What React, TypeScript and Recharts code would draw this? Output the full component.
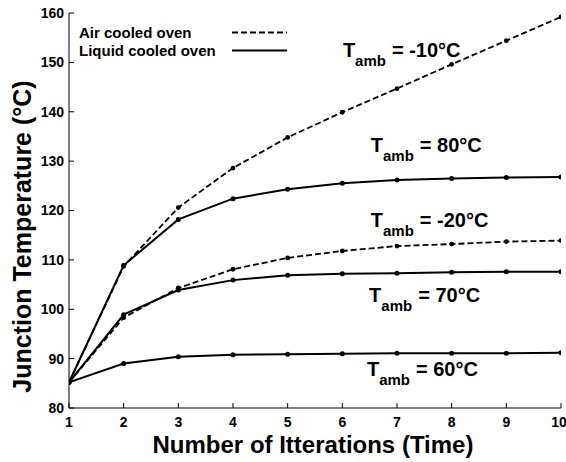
import {
  LineChart,
  Line,
  XAxis,
  YAxis,
  Legend,
  Label,
  ReferenceDot,
} from 'recharts';

const iterations = [1, 2, 3, 4, 5, 6, 7, 8, 9, 10];
const airMinus10 = [85.2, 108.7, 120.6, 128.6, 134.8, 139.9, 144.7, 149.6, 154.4, 159.2];
const liquid80 = [85.2, 108.9, 118.2, 122.4, 124.3, 125.5, 126.2, 126.5, 126.7, 126.8];
const airMinus20 = [85.2, 98.3, 104.3, 108.1, 110.4, 111.8, 112.8, 113.2, 113.7, 113.9];
const liquid70 = [85.2, 98.9, 103.9, 105.9, 106.9, 107.2, 107.3, 107.5, 107.6, 107.6];
const liquid60 = [85.2, 89.0, 90.4, 90.8, 90.9, 91.0, 91.1, 91.1, 91.1, 91.2];

const yTicks = [80, 90, 100, 110, 120, 130, 140, 150, 160];

// where each "T_amb = ..." note sits (data units, left edge / baseline of the T)
const ambientLabels = [
  { x: 6.01, y: 151.1, text: '= -10°C' },
  { x: 6.52, y: 131.9, text: '= 80°C' },
  { x: 6.52, y: 116.7, text: '= -20°C' },
  { x: 6.49, y: 101.5, text: '= 70°C' },
  { x: 6.45, y: 86.4, text: '= 60°C' },
];

const FONT = 'Arial, "Liberation Sans", Roboto, sans-serif';

const data = iterations.map((it, i) => ({
  it,
  air10: airMinus10[i],
  liq80: liquid80[i],
  air20: airMinus20[i],
  liq70: liquid70[i],
  liq60: liquid60[i],
}));

function TambLabel({ viewBox, text }: any) {
  const { x, y } = viewBox;
  return (
    <text x={x} y={y} style={{ fontFamily: FONT }} fontWeight="bold" fill="#000">
      <tspan fontSize={20}>T</tspan>
      <tspan fontSize={15} dy={9}>amb</tspan>
      <tspan fontSize={20} dy={-9} dx={6}>{text}</tspan>
    </text>
  );
}

function LegendBox({ payload }: any) {
  const items = (payload || []).filter((p: any) => p.type !== 'none');
  return (
    <svg width={300} height={62} style={{ display: 'block' }}>
      {items.map((p: any, i: number) => (
        <g key={p.value}>
          <text x={79} y={37.5 + i * 18} style={{ fontFamily: FONT }} fontWeight="bold" fontSize={15} fill="#000">
            {p.value}
          </text>
          <line
            x1={232}
            x2={287}
            y1={32.5 + i * 18}
            y2={32.5 + i * 18}
            stroke="#000"
            strokeWidth={2}
            strokeDasharray={p.payload?.strokeDasharray}
          />
        </g>
      ))}
    </svg>
  );
}

const tickStyle = { fontFamily: FONT, fontWeight: 'bold', fontSize: 14, fill: '#000' };

export default function App() {
  return (
    <div style={{ position: 'absolute', left: 0, top: 0, background: '#fff', fontFamily: FONT }}>
      <LineChart width={566} height={462} data={data} margin={{ top: 13, right: 5, bottom: 0, left: 0 }}>
        <XAxis
          dataKey="it"
          type="number"
          domain={[1, 10]}
          ticks={iterations}
          allowDataOverflow
          height={54}
          stroke="#000"
          tickSize={-5}
          tickMargin={14}
          tick={tickStyle}
        >
          <Label
            content={({ viewBox }: any) => (
              <text
                x={viewBox.x + viewBox.width / 2 - 2}
                y={viewBox.y + 45}
                textAnchor="middle"
                style={{ fontFamily: FONT }}
                fontWeight="bold"
                fontSize={24}
                fill="#000"
              >
                Number of Itterations (Time)
              </text>
            )}
          />
        </XAxis>
        <XAxis
          xAxisId="top"
          orientation="top"
          dataKey="it"
          type="number"
          domain={[1, 10]}
          ticks={iterations}
          allowDataOverflow
          height={0}
          stroke="#000"
          tickSize={-5}
          tick={false}
        />
        <YAxis
          type="number"
          domain={[80, 160]}
          ticks={yTicks}
          allowDataOverflow
          width={69}
          stroke="#000"
          tickSize={-5}
          tickMargin={10}
          tick={tickStyle}
        >
          <Label
            content={({ viewBox }: any) => {
              const cx = 31;
              const cy = viewBox.y + viewBox.height / 2 + 26;
              return (
                <text
                  x={cx}
                  y={cy}
                  transform={`rotate(-90 ${cx} ${cy})`}
                  textAnchor="middle"
                  style={{ fontFamily: FONT }}
                  fontWeight="bold"
                  fontSize={25}
                  fill="#000"
                >
                  Junction Temperature (°C)
                </text>
              );
            }}
          />
        </YAxis>
        <YAxis
          yAxisId="right"
          orientation="right"
          type="number"
          domain={[80, 160]}
          ticks={yTicks}
          allowDataOverflow
          width={0}
          stroke="#000"
          tickSize={-5}
          tick={false}
        />
        <Legend
          layout="horizontal"
          verticalAlign="middle"
          align="center"
          width={300}
          wrapperStyle={{ top: 0, left: 0 }}
          content={<LegendBox />}
        />
        <Line
          name="Air cooled oven"
          dataKey="air10"
          type="linear"
          stroke="#000"
          strokeWidth={1.8}
          strokeDasharray="6 3"
          dot={{ r: 1.5, fill: '#000', stroke: '#000', strokeDasharray: '' }}
          isAnimationActive={false}
        />
        <Line
          name="Liquid cooled oven"
          dataKey="liq80"
          type="linear"
          stroke="#000"
          strokeWidth={2}
          dot={{ r: 1.5, fill: '#000', stroke: '#000' }}
          isAnimationActive={false}
        />
        <Line
          name="Air -20"
          dataKey="air20"
          type="linear"
          stroke="#000"
          strokeWidth={1.8}
          strokeDasharray="6 3"
          legendType="none"
          dot={{ r: 1.5, fill: '#000', stroke: '#000', strokeDasharray: '' }}
          isAnimationActive={false}
        />
        <Line
          name="Liquid 70"
          dataKey="liq70"
          type="linear"
          stroke="#000"
          strokeWidth={2}
          legendType="none"
          dot={{ r: 1.5, fill: '#000', stroke: '#000' }}
          isAnimationActive={false}
        />
        <Line
          name="Liquid 60"
          dataKey="liq60"
          type="linear"
          stroke="#000"
          strokeWidth={2}
          legendType="none"
          dot={{ r: 1.5, fill: '#000', stroke: '#000' }}
          isAnimationActive={false}
        />
        {ambientLabels.map((a) => (
          <ReferenceDot
            key={a.text}
            x={a.x}
            y={a.y}
            r={0}
            fill="none"
            stroke="none"
            label={{ content: (p: any) => <TambLabel viewBox={p.viewBox} text={a.text} /> }}
          />
        ))}
      </LineChart>
    </div>
  );
}
